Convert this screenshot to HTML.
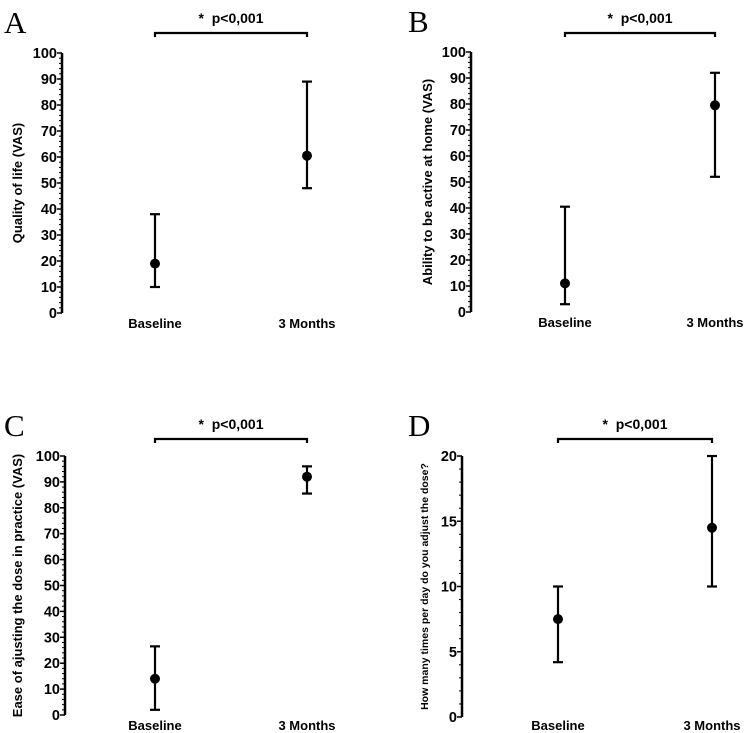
<!DOCTYPE html>
<html><head><meta charset="utf-8"><style>
body{margin:0;background:#fff;}
svg{display:block;font-family:"Liberation Sans",sans-serif;}
</style></head><body>
<svg id="chart" width="744" height="733" viewBox="0 0 744 733"></svg>
<script>
const categories=["Baseline","3 Months"];
const panelLetters=["A","B","C","D"];
const yTitles=["Quality of life (VAS)","Ability to be active at home (VAS)","Ease of ajusting the dose in practice (VAS)","How many times per day do you adjust the dose?"];
const meanA=[19,60.5], lowA=[10,48], highA=[38,89];
const meanB=[11,79.5], lowB=[3,52], highB=[40.5,92];
const meanC=[14,92], lowC=[2,85.5], highC=[26.5,96];
const meanD=[7.5,14.5], lowD=[4.2,10], highD=[10,20];
const ticks100=[0,10,20,30,40,50,60,70,80,90,100];
const ticks20=[0,5,10,15,20];
const sigText="*\u00a0\u00a0p<0,001";

const NS="http://www.w3.org/2000/svg";
const svg=document.getElementById('chart');
function mk(tag,attrs,parent){const e=document.createElementNS(NS,tag);for(const k in attrs)e.setAttribute(k,attrs[k]);(parent||svg).appendChild(e);return e;}

const layouts=[
 {ax:62,top:53,bot:313,cx:[155,307],bracketY:33,letterX:4,letterY:33,titleX:22,catY:328,max:100,ticks:ticks100,minor:2,titleSize:13},
 {ax:471,top:52,bot:312,cx:[565,715],bracketY:33,letterX:408,letterY:32,titleX:432,catY:327,max:100,ticks:ticks100,minor:2,titleSize:13},
 {ax:65,top:456,bot:715,cx:[155,307],bracketY:439,letterX:4,letterY:436,titleX:22,catY:730,max:100,ticks:ticks100,minor:2,titleSize:13},
 {ax:462,top:456,bot:717,cx:[558,712],bracketY:439,letterX:408,letterY:436,titleX:428,catY:730,max:20,ticks:ticks20,minor:1,titleSize:10.5}
];
const means=[meanA,meanB,meanC,meanD], lows=[lowA,lowB,lowC,lowD], highs=[highA,highB,highC,highD];

layouts.forEach((L,p)=>{
 const g=mk('g',{});
 
 
 const y=v=>L.bot-(v/L.max)*(L.bot-L.top);
 const lt=mk('text',{x:L.letterX,y:L.letterY,'font-family':'Liberation Serif, serif','font-size':31},g);
 lt.textContent=panelLetters[p];
 
 
 const ax=mk('line',{x1:L.ax,x2:L.ax,y1:L.top,y2:L.bot,stroke:'#000','stroke-width':2.5},g);
 
 
 for(let v=0;v<=L.max+1e-9;v+=L.minor){
  mk('line',{x1:L.ax-3,x2:L.ax,y1:y(v),y2:y(v),stroke:'#000','stroke-width':1},g);
 }
 L.ticks.forEach(t=>{
  mk('line',{x1:L.ax-5,x2:L.ax,y1:y(t),y2:y(t),stroke:'#000','stroke-width':1.5},g);
  const tx=mk('text',{x:L.ax-5,y:y(t)+5,'text-anchor':'end','font-size':14.5,'font-weight':'bold'},g);
  tx.textContent=t;
  
  
 });
 const mid=(L.top+L.bot)/2;
 const yt=mk('text',{x:L.titleX,y:mid,'text-anchor':'middle','font-size':L.titleSize,'font-weight':'bold',transform:`rotate(-90 ${L.titleX} ${mid})`},g);
 yt.textContent=yTitles[p];
 
 
 categories.forEach((c,i)=>{
  const cl=mk('text',{x:L.cx[i],y:L.catY,'text-anchor':'middle','font-size':13,'font-weight':'bold'},g);
  cl.textContent=c;
  
  
  const eb=mk('g',{},g);
  
  
  const x=L.cx[i];
  mk('line',{x1:x,x2:x,y1:y(lows[p][i]),y2:y(highs[p][i]),stroke:'#000','stroke-width':2.2},eb);
  mk('line',{x1:x-5,x2:x+5,y1:y(lows[p][i]),y2:y(lows[p][i]),stroke:'#000','stroke-width':2.2},eb);
  mk('line',{x1:x-5,x2:x+5,y1:y(highs[p][i]),y2:y(highs[p][i]),stroke:'#000','stroke-width':2.2},eb);
  const pt=mk('circle',{cx:x,cy:y(means[p][i]),r:5,fill:'#000'},eb);
  
  
 });
 const br=mk('path',{d:`M${L.cx[0]} ${L.bracketY+4}V${L.bracketY}H${L.cx[1]}V${L.bracketY+4}`,fill:'none',stroke:'#000','stroke-width':2.2},g);
 
 
 const st=mk('text',{x:(L.cx[0]+L.cx[1])/2,y:L.bracketY-10,'text-anchor':'middle','font-size':14,'font-weight':'bold'},g);
 st.textContent=sigText;
 
 
});
</script>
</body></html>
